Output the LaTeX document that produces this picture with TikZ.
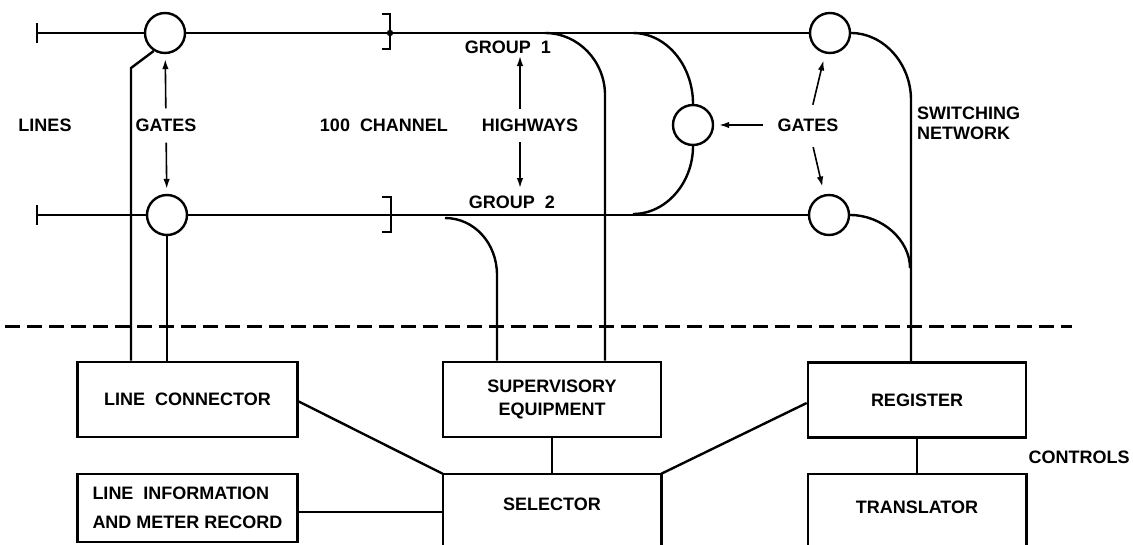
\documentclass[tikz,border=0pt]{standalone}
\usepackage{fontspec}
\setmainfont{Liberation Sans}
\usetikzlibrary{arrows.meta}
\begin{document}
\begin{tikzpicture}[x=1pt,y=-1pt,
  wire/.style={line width=2.4pt},
  gate/.style={circle,draw,line width=2.4pt,minimum size=40pt,inner sep=0pt},
  lbl/.style={font=\fontsize{18}{20}\selectfont\bfseries, inner sep=0pt},
  box/.style={draw,line width=2.6pt,minimum width=220pt,minimum height=75pt,inner sep=0pt,align=center,font=\fontsize{18}{23}\selectfont\bfseries},
  openbox/.style={minimum width=218pt,inner sep=0pt,align=center,font=\fontsize{18}{23}\selectfont\bfseries},
  arr/.style={line width=1.6pt,-{Latex[length=10pt,width=6.5pt]}},
]
\useasboundingbox (0,0) rectangle (1133,544);

% gates
\node[gate] (gTL) at (165,33) {};
\node[gate] (gBL) at (167,215) {};
\node[gate] (gM)  at (693,125) {};
\node[gate] (gTR) at (830,33) {};
\node[gate] (gBR) at (829,215) {};

% line ends (ticks)
\coordinate (tTL) at (37,33);
\coordinate (tBL) at (37,215);
\draw[line width=2.6pt] ([yshift=10pt]tTL) -- ([yshift=-10pt]tTL);
\draw[line width=2.6pt] ([yshift=10pt]tBL) -- ([yshift=-10pt]tBL);

% highways
\draw[wire] (tTL) -- (gTL);
\draw[wire] (gTL) -- (gTR);
\draw[wire] (tBL) -- (gBL);
\draw[wire] (gBL) -- (gBR);

% brackets
\coordinate (dot) at (390,33);
\fill (dot) circle (3.2pt);
\draw[line width=2.4pt] (382,14) -- (390,14) -- (390,49) -- (382,49);
\draw[line width=2.4pt] (382,197) -- (391,197) -- (391,232) -- (382,232);

% boxes
\node[box] (lc) at (187.5,399.5) {LINE\ \ CONNECTOR};
\node[box,minimum height=68pt,align=left,font=\fontsize{18}{29}\selectfont\bfseries] (li) at (187.5,508) {LINE\ \ INFORMATION\\AND\ METER\ RECORD};
\node[box,minimum width=218pt] (sup) at (552,399.5) {SUPERVISORY\\EQUIPMENT};
\node[box,minimum width=218pt] (reg) at (917,400) {REGISTER};
\node[openbox,minimum height=60pt] (sel) at (552,504) {SELECTOR};
\node[openbox,minimum height=66pt] (tr) at (917,507) {TRANSLATOR};
\draw[line width=2.6pt] ([yshift=-12pt]sel.south west) -- (sel.north west) -- (sel.north east) -- ([yshift=-12pt]sel.south east);
\draw[line width=2.6pt] ([yshift=-6pt]tr.south west) -- (tr.north west) -- (tr.north east) -- ([yshift=-6pt]tr.south east);

% curves from highways
\coordinate (c1a) at (545,33);
\coordinate (c1b) at (605,95);
\draw[wire] (c1a) .. controls (578,33) and (605,61) .. (c1b) -- (c1b |- sup.north);
\coordinate (c2a) at (445,218);
\coordinate (c2b) at (497,275);
\draw[wire] (c2a) .. controls (474,218) and (497,243) .. (c2b) -- (c2b |- sup.north);
\coordinate (c3a) at (633,33);
\draw[wire] (c3a) .. controls (666,33) and (gM.north |- 0,65) .. (gM.north);
\coordinate (c3b) at (633,214);
\draw[wire] (gM.south) .. controls (gM.south |- 0,183) and (666,214) .. (c3b);
\coordinate (c4b) at (911,100);
\draw[wire] (gTR.east) .. controls (883,33) and (911,63) .. (c4b) -- (c4b |- reg.north);
\coordinate (c5b) at (910,268);
\draw[wire] (gBR.east) .. controls (882,215) and (910,240) .. (c5b);

% lines to line connector
\coordinate (k) at (131,68);
\draw[wire] (gTL.-122) -- (k) -- (k |- lc.north);
\draw[wire] (gBL.south) -- (gBL.south |- lc.north);

% dashed boundary
\draw[line width=3pt,dash pattern=on 15pt off 7pt] (5,326) -- (1072,326);

% control connections
\draw[wire] ([yshift=-2pt]lc.east) -- (sel.north west);
\draw[wire] ([yshift=-4pt]li.east) -- ([yshift=-4pt]li.east -| sel.west);
\draw[wire] (sup.south) -- (sup.south |- sel.north);
\draw[wire] ([yshift=-3pt]reg.west) -- (sel.north east);
\draw[wire] (reg.south) -- (reg.south |- tr.north);

% labels
\node[lbl] (lines) at (45,125) {LINES};
\node[lbl] (gl) at (166,125) {GATES};
\node[lbl] (ch) at (384,125) {100\ \ CHANNEL};
\node[lbl] (hw) at (530,125) {HIGHWAYS};
\node[lbl] (g1) at (508,47) {GROUP\ \ 1};
\node[lbl] (g2) at (512,202) {GROUP\ \ 2};
\node[lbl] (gr) at (808,125) {GATES};
\node[lbl,align=left,anchor=west] (sw) at (917,123) {SWITCHING\\NETWORK};
\node[lbl] (ctl) at (1079,457) {CONTROLS};

% arrows
\draw[arr,shorten <=10pt,shorten >=5pt] (gl) -- (gTL);
\draw[arr,shorten <=11pt,shorten >=5pt] (gl) -- (gBL);
\draw[arr,shorten <=16pt,shorten >=9pt] ([xshift=-10pt]hw.center) -- ([xshift=12pt]g1.center);
\draw[arr,shorten <=17pt,shorten >=14pt] ([xshift=-10pt]hw.center) -- ([xshift=8pt]g2.center);
\draw[arr,shorten <=14pt,shorten >=5pt] (gr) -- (gM);
\draw[arr,shorten <=14pt,shorten >=7pt] (gr) -- (gTR);
\draw[arr,shorten <=16pt,shorten >=8pt] (gr) -- (gBR);
\end{tikzpicture}
\end{document}
